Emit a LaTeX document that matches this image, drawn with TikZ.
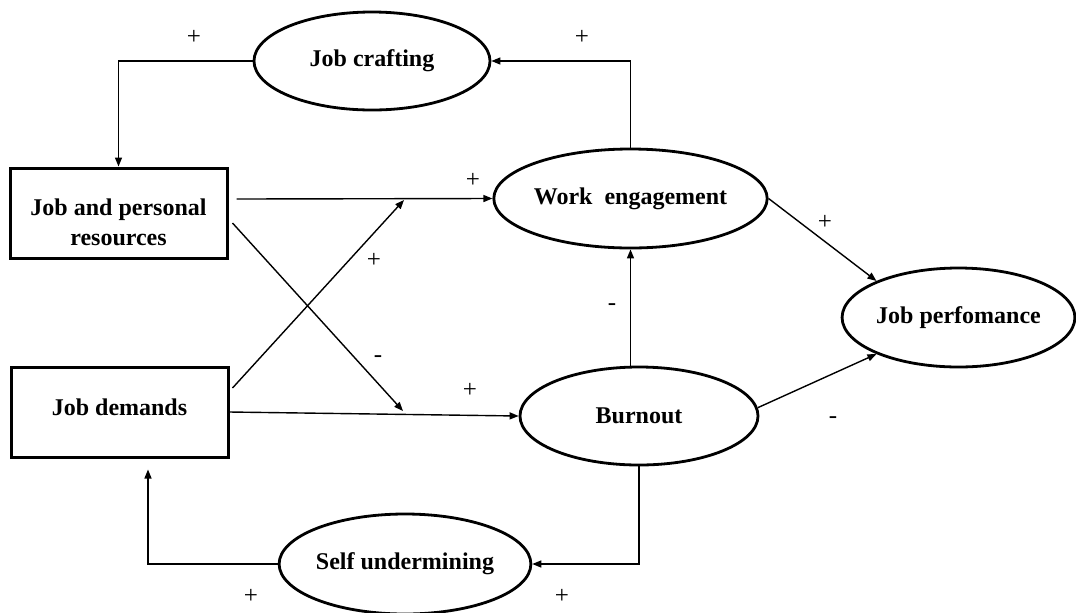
\documentclass[tikz,border=0pt]{standalone}
\usepackage{fontspec}
\setmainfont{Liberation Serif}
\usetikzlibrary{shapes.geometric,arrows.meta,calc}
\begin{document}
\begin{tikzpicture}[x=0.5pt,y=-0.5pt,
  font=\fontsize{12}{14}\selectfont,
  latent/.style={ellipse,draw,line width=1.4pt,inner sep=0pt,
    font=\fontsize{12}{14}\selectfont\bfseries},
  observed/.style={rectangle,draw,line width=1.5pt,inner sep=0pt,align=center,
    minimum width=108.5pt,minimum height=45pt,
    font=\fontsize{12}{15}\selectfont\bfseries},
  link/.style={line width=0.7pt,-{Triangle[length=4.5pt,width=3.5pt]}},
  signlab/.style={inner sep=0pt,font=\fontsize{12.5}{14}\selectfont}]

\useasboundingbox (0,0) rectangle (1076,612);
\fill[white] (0,0) rectangle (1076,612);

% latent constructs
\node[latent,minimum width=118pt,minimum height=49pt] (craft) at (372,61) {Job crafting};
\node[latent,minimum width=118.5pt,minimum height=49.5pt] (we) at (630.5,198.5) {Work\ \ engagement};
\node[latent,minimum width=119pt,minimum height=49pt] (burn) at (639,416) {Burnout};
\node[latent,minimum width=114.5pt,minimum height=49.5pt] (perf) at (958.5,317.5) {Job perfomance};
\node[latent,minimum width=119pt,minimum height=50pt] (su) at (405,564) {Self undermining};

% observed constructs (the invisible rules set the text a little off centre)
\node[observed] (jpr) at (118.5,213) {\rule{0pt}{17.2pt}Job and personal\\resources};
\node[observed] (jd) at (119.5,412) {Job demands\rule[-5pt]{0pt}{5pt}};

% free ends of the paths
\coordinate (jprout) at ($(jpr.east)+(8,-14)$);
\coordinate (jprcross) at ($(jpr.east)+(4,10)$);
\coordinate (jdcross) at ($(jd.east)+(3,-24)$);
\coordinate (tipwe) at (404,200);
\coordinate (tipburn) at (403,411);
\coordinate (jdin) at ($(jd.south)+(28.5,11)$);

% paths
\draw[link] (we.north) |- (craft.east);
\draw[link] (craft.west) -| (jpr.north);
\draw[link] (jprout) -- (we.west);
\draw[link] (jd.east) -- (burn.west);
\draw[link] (jprcross) -- (tipburn);
\draw[link] (jdcross) -- (tipwe);
\draw[link] (we.south |- burn.north) -- (we.south);
\draw[link] (we.east) -- (perf.156);
\draw[link] (burn.4) -- (perf.204);
\draw[link] (burn.south) |- (su.east);
\draw[link] (su.west) -| (jdin);

% signs of the effects
\node[signlab] (s1) at (194,37) {+};
\node[signlab] (s2) at (582,37) {+};
\node[signlab] (s3) at (473,180) {+};
\node[signlab] (s4) at (374,260) {+};
\node[signlab] (s5) at (378,359) {-};
\node[signlab] (s6) at (470,390) {+};
\node[signlab] (s7) at (612,307) {-};
\node[signlab] (s8) at (825,222) {+};
\node[signlab] (s9) at (833,420) {-};
\node[signlab] (s10) at (562,596) {+};
\node[signlab] (s11) at (251,596) {+};
\end{tikzpicture}
\end{document}
